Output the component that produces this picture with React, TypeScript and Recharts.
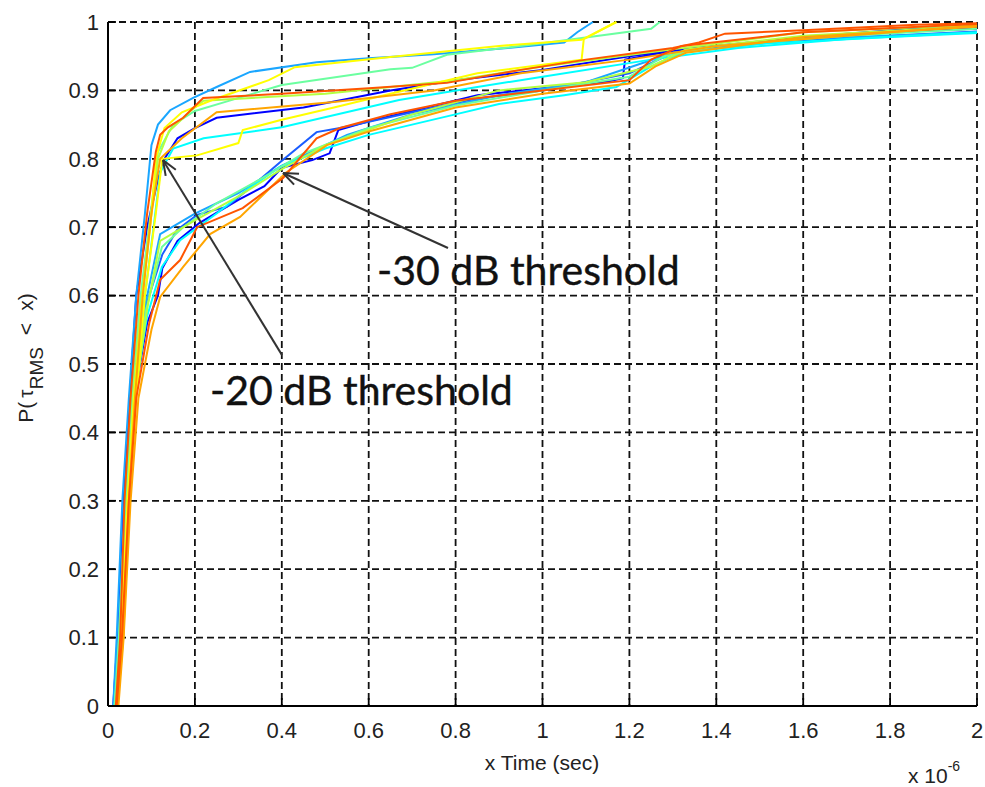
import { LineChart, Line, XAxis, YAxis, CartesianGrid, ReferenceLine, ReferenceDot } from 'recharts';

type Pt = [number, number];

// x in units of 1e-6 s, y = P(tau_RMS < x)
const xTicks = [0, 0.2, 0.4, 0.6, 0.8, 1, 1.2, 1.4, 1.6, 1.8, 2];
const yTicks = [0, 0.1, 0.2, 0.3, 0.4, 0.5, 0.6, 0.7, 0.8, 0.9, 1];

// -20 dB threshold curves
const a20Sky: Pt[] = [[0.012, 0], [0.02, 0.1], [0.033, 0.3], [0.048, 0.45], [0.065, 0.6], [0.085, 0.72], [0.1, 0.82], [0.115, 0.85], [0.143, 0.871], [0.196, 0.889], [0.25, 0.905], [0.327, 0.927], [0.48, 0.941], [0.6, 0.947], [0.75, 0.953], [0.92, 0.962], [1.05, 0.97], [1.08, 0.985], [1.116, 1]];
const a20Yellow: Pt[] = [[0.02, 0], [0.03, 0.1], [0.045, 0.3], [0.06, 0.45], [0.08, 0.6], [0.1, 0.72], [0.11, 0.8], [0.13, 0.845], [0.17, 0.868], [0.24, 0.886], [0.37, 0.915], [0.43, 0.934], [0.65, 0.949], [0.9, 0.965], [1.09, 0.974], [1.17, 1]];
const a20Aqua: Pt[] = [[0.015, 0], [0.025, 0.1], [0.04, 0.3], [0.055, 0.45], [0.075, 0.6], [0.1, 0.73], [0.115, 0.81], [0.15, 0.85], [0.2, 0.87], [0.28, 0.885], [0.4, 0.908], [0.65, 0.931], [0.7, 0.933], [0.78, 0.952], [1.0, 0.969], [1.25, 0.99], [1.27, 1]];
const a20OrangeRed: Pt[] = [[0.018, 0], [0.028, 0.1], [0.038, 0.3], [0.052, 0.45], [0.07, 0.6], [0.09, 0.72], [0.11, 0.81], [0.12, 0.835], [0.138, 0.846], [0.173, 0.86], [0.219, 0.889], [0.4, 0.895], [0.6, 0.903], [0.78, 0.911], [0.95, 0.93], [1.1, 0.945], [1.3, 0.962], [1.36, 0.97], [1.42, 0.983], [1.6, 0.988], [1.86, 0.996], [2, 0.998]];
const a20Blue: Pt[] = [[0.012, 0], [0.022, 0.1], [0.035, 0.3], [0.05, 0.45], [0.065, 0.6], [0.09, 0.7], [0.115, 0.77], [0.13, 0.8], [0.16, 0.83], [0.2, 0.845], [0.25, 0.86], [0.45, 0.875], [0.65, 0.9], [0.8, 0.915], [1.0, 0.93], [1.2, 0.95], [1.35, 0.962], [1.6, 0.978], [1.85, 0.99], [2, 0.992]];
const a20Orange: Pt[] = [[0.02, 0], [0.035, 0.1], [0.048, 0.3], [0.062, 0.45], [0.08, 0.6], [0.1, 0.72], [0.12, 0.8], [0.17, 0.83], [0.25, 0.868], [0.52, 0.883], [0.75, 0.9], [0.95, 0.925], [1.2, 0.945], [1.4, 0.965], [1.7, 0.98], [2, 0.995]];
const a20Cyan: Pt[] = [[0.015, 0], [0.03, 0.1], [0.045, 0.3], [0.06, 0.45], [0.085, 0.6], [0.105, 0.7], [0.12, 0.78], [0.15, 0.815], [0.22, 0.83], [0.4, 0.846], [0.67, 0.886], [0.85, 0.905], [1.0, 0.92], [1.25, 0.945], [1.45, 0.962], [1.7, 0.975], [2, 0.985]];
const a20Lime: Pt[] = [[0.018, 0], [0.03, 0.1], [0.045, 0.3], [0.058, 0.45], [0.078, 0.6], [0.1, 0.72], [0.115, 0.8], [0.14, 0.84], [0.19, 0.87], [0.22, 0.885], [0.5, 0.895], [0.8, 0.915], [1.0, 0.935], [1.3, 0.96], [1.6, 0.985], [2, 0.996]];
const a20Yellow2: Pt[] = [[0.022, 0], [0.035, 0.1], [0.05, 0.3], [0.065, 0.45], [0.085, 0.6], [0.11, 0.72], [0.125, 0.8], [0.205, 0.805], [0.3, 0.823], [0.31, 0.842], [0.4, 0.857], [0.52, 0.875], [0.65, 0.895], [0.85, 0.925], [1.09, 0.945], [1.095, 0.975], [1.17, 1]];

// -30 dB threshold curves
const b30Blue: Pt[] = [[0.015, 0], [0.025, 0.1], [0.04, 0.3], [0.06, 0.45], [0.09, 0.56], [0.115, 0.6], [0.125, 0.64], [0.16, 0.68], [0.21, 0.706], [0.3, 0.74], [0.36, 0.76], [0.4, 0.787], [0.47, 0.798], [0.51, 0.808], [0.53, 0.842], [0.6, 0.855], [0.7, 0.87], [0.85, 0.893], [1.0, 0.903], [1.15, 0.913], [1.185, 0.918], [1.19, 0.945], [1.3, 0.958], [1.5, 0.97], [1.8, 0.985], [2, 0.99]];
const b30Dodger: Pt[] = [[0.013, 0], [0.024, 0.1], [0.038, 0.3], [0.055, 0.45], [0.085, 0.58], [0.125, 0.66], [0.159, 0.696], [0.205, 0.718], [0.274, 0.73], [0.343, 0.766], [0.396, 0.795], [0.48, 0.839], [0.534, 0.845], [0.6, 0.854], [0.7, 0.868], [0.85, 0.888], [1.0, 0.9], [1.2, 0.925], [1.3, 0.955], [1.5, 0.97], [1.8, 0.98], [2, 0.986]];
const b30Cyan: Pt[] = [[0.017, 0], [0.028, 0.1], [0.042, 0.3], [0.06, 0.45], [0.09, 0.57], [0.124, 0.642], [0.166, 0.681], [0.25, 0.72], [0.32, 0.755], [0.396, 0.788], [0.5, 0.815], [0.6, 0.835], [0.78, 0.862], [0.9, 0.88], [1.05, 0.893], [1.17, 0.905], [1.25, 0.935], [1.32, 0.955], [1.5, 0.968], [1.8, 0.978], [2, 0.984]];
const b30Aqua: Pt[] = [[0.016, 0], [0.027, 0.1], [0.04, 0.3], [0.058, 0.45], [0.088, 0.58], [0.124, 0.671], [0.173, 0.7], [0.25, 0.735], [0.35, 0.77], [0.45, 0.808], [0.6, 0.845], [0.8, 0.878], [1.0, 0.9], [1.2, 0.92], [1.28, 0.95], [1.4, 0.965], [1.7, 0.98], [2, 0.99]];
const b30Lime: Pt[] = [[0.02, 0], [0.03, 0.1], [0.045, 0.3], [0.062, 0.45], [0.09, 0.58], [0.12, 0.68], [0.2, 0.71], [0.3, 0.745], [0.4, 0.785], [0.5, 0.82], [0.7, 0.865], [0.9, 0.9], [1.1, 0.912], [1.25, 0.935], [1.33, 0.96], [1.6, 0.98], [2, 0.994]];
const b30OrangeRed: Pt[] = [[0.02, 0], [0.032, 0.1], [0.048, 0.3], [0.065, 0.45], [0.095, 0.56], [0.12, 0.623], [0.166, 0.652], [0.205, 0.7], [0.31, 0.728], [0.403, 0.772], [0.48, 0.83], [0.534, 0.845], [0.65, 0.865], [0.8, 0.885], [1.0, 0.9], [1.2, 0.915], [1.25, 0.945], [1.32, 0.965], [1.6, 0.985], [2, 0.997]];
const b30Orange: Pt[] = [[0.024, 0], [0.036, 0.1], [0.052, 0.3], [0.07, 0.45], [0.1, 0.55], [0.12, 0.598], [0.173, 0.642], [0.235, 0.69], [0.304, 0.715], [0.41, 0.78], [0.504, 0.82], [0.6, 0.84], [0.8, 0.875], [1.0, 0.895], [1.2, 0.91], [1.26, 0.935], [1.33, 0.955], [1.6, 0.978], [2, 0.993]];
const b30Sky: Pt[] = [[0.014, 0], [0.025, 0.1], [0.04, 0.3], [0.057, 0.45], [0.087, 0.59], [0.12, 0.69], [0.2, 0.72], [0.3, 0.75], [0.4, 0.79], [0.55, 0.835], [0.7, 0.865], [0.9, 0.893], [1.1, 0.912], [1.3, 0.955], [1.6, 0.975], [2, 0.985]];

const curves: { name: string; color: string; pts: Pt[] }[] = [
  { name: 'b30Blue', color: '#0000ff', pts: b30Blue },
  { name: 'a20Blue', color: '#0000ff', pts: a20Blue },
  { name: 'b30Dodger', color: '#1a5cff', pts: b30Dodger },
  { name: 'a20Sky', color: '#1aa6ff', pts: a20Sky },
  { name: 'b30Sky', color: '#1aa6ff', pts: b30Sky },
  { name: 'a20Cyan', color: '#00ffff', pts: a20Cyan },
  { name: 'b30Cyan', color: '#00ffff', pts: b30Cyan },
  { name: 'a20Aqua', color: '#6bffa0', pts: a20Aqua },
  { name: 'b30Aqua', color: '#6bffa0', pts: b30Aqua },
  { name: 'a20Lime', color: '#b4ff40', pts: a20Lime },
  { name: 'b30Lime', color: '#b4ff40', pts: b30Lime },
  { name: 'a20Yellow', color: '#ffff00', pts: a20Yellow },
  { name: 'a20Yellow2', color: '#ffff00', pts: a20Yellow2 },
  { name: 'a20Orange', color: '#ffa500', pts: a20Orange },
  { name: 'b30Orange', color: '#ffa500', pts: b30Orange },
  { name: 'a20OrangeRed', color: '#ff5500', pts: a20OrangeRed },
  { name: 'b30OrangeRed', color: '#ff5500', pts: b30OrangeRed },
];

const toRows = (pts: Pt[]) => pts.map(([x, y]) => ({ x, y }));

const axisFont = '"Liberation Sans", Arial, sans-serif';
const noteFont = 'Lato, "Open Sans", sans-serif';
const tickStyle = { fontFamily: axisFont, fontSize: 22, fill: '#222' };

// open matlab-style arrowhead at (x2, y2)
function Arrow(props: any) {
  const { x1, y1, x2, y2 } = props;
  const ang = Math.atan2(y2 - y1, x2 - x1);
  const len = 16;
  const spread = 0.38;
  const hx1 = x2 - len * Math.cos(ang - spread);
  const hy1 = y2 - len * Math.sin(ang - spread);
  const hx2 = x2 - len * Math.cos(ang + spread);
  const hy2 = y2 - len * Math.sin(ang + spread);
  return (
    <g stroke="#333" strokeWidth={2} fill="none">
      <line x1={x1} y1={y1} x2={x2} y2={y2} />
      <line x1={hx1} y1={hy1} x2={x2} y2={y2} />
      <line x1={hx2} y1={hy2} x2={x2} y2={y2} />
    </g>
  );
}

const note = (label: string) => (p: any) => (
  <text x={p.cx} y={p.cy} fontFamily={noteFont} fontSize={41} fill="#111" stroke="#111" strokeWidth={0.4}>
    {label}
  </text>
);

export default function App() {
  return (
    <div style={{ position: 'fixed', left: 0, top: 0, width: 985, height: 787, background: '#fff' }}>
      <LineChart width={985} height={787} margin={{ top: 22, right: 8, bottom: 0, left: 0 }}>
        <CartesianGrid stroke="#111" strokeDasharray="7 4" strokeWidth={1.8} />
        <XAxis
          type="number"
          dataKey="x"
          domain={[0, 2]}
          ticks={xTicks}
          interval={0}
          height={81}
          tick={tickStyle}
          tickSize={-8}
          tickMargin={24}
          axisLine={{ stroke: '#000', strokeWidth: 2 }}
          tickLine={{ stroke: '#000', strokeWidth: 1.8 }}
        />
        <YAxis
          type="number"
          domain={[0, 1]}
          ticks={yTicks}
          interval={0}
          width={108}
          tick={tickStyle}
          tickSize={-8}
          tickMargin={17}
          axisLine={{ stroke: '#000', strokeWidth: 2 }}
          tickLine={{ stroke: '#000', strokeWidth: 1.8 }}
        />
        {curves.map((c) => (
          <Line
            key={c.name}
            name={c.name}
            data={toRows(c.pts)}
            dataKey="y"
            type="linear"
            stroke={c.color}
            strokeWidth={2}
            dot={false}
            isAnimationActive={false}
          />
        ))}
        <ReferenceDot x={0.619} y={0.6155} r={0} shape={note('-30 dB threshold')} />
        <ReferenceDot x={0.2348} y={0.44} r={0} shape={note('-20 dB threshold')} />
        <ReferenceLine segment={[{ x: 0.4005, y: 0.513 }, { x: 0.1266, y: 0.798 }]} shape={Arrow} />
        <ReferenceLine segment={[{ x: 0.7825, y: 0.6696 }, { x: 0.4028, y: 0.7792 }]} shape={Arrow} />
      </LineChart>
      <svg width={985} height={787} style={{ position: 'absolute', left: 0, top: 0, pointerEvents: 'none' }}>
        <text x={542} y={770} textAnchor="middle" fontFamily={axisFont} fontSize={21} fill="#222">
          x Time (sec)
        </text>
        <text x={908} y={783} fontFamily={axisFont} fontSize={21} fill="#222">
          x 10
          <tspan fontSize={14} dy={-12}>-6</tspan>
        </text>
        <text transform="translate(33,358) rotate(-90)" textAnchor="middle" fontFamily={axisFont} fontSize={21} fill="#222">
          P(
          <tspan dx={4}>τ</tspan>
          <tspan fontSize={19} dy={10}>RMS</tspan>
          <tspan dx={12} dy={-10}>&lt;</tspan>
          <tspan dx={12}>x)</tspan>
        </text>
      </svg>
    </div>
  );
}
